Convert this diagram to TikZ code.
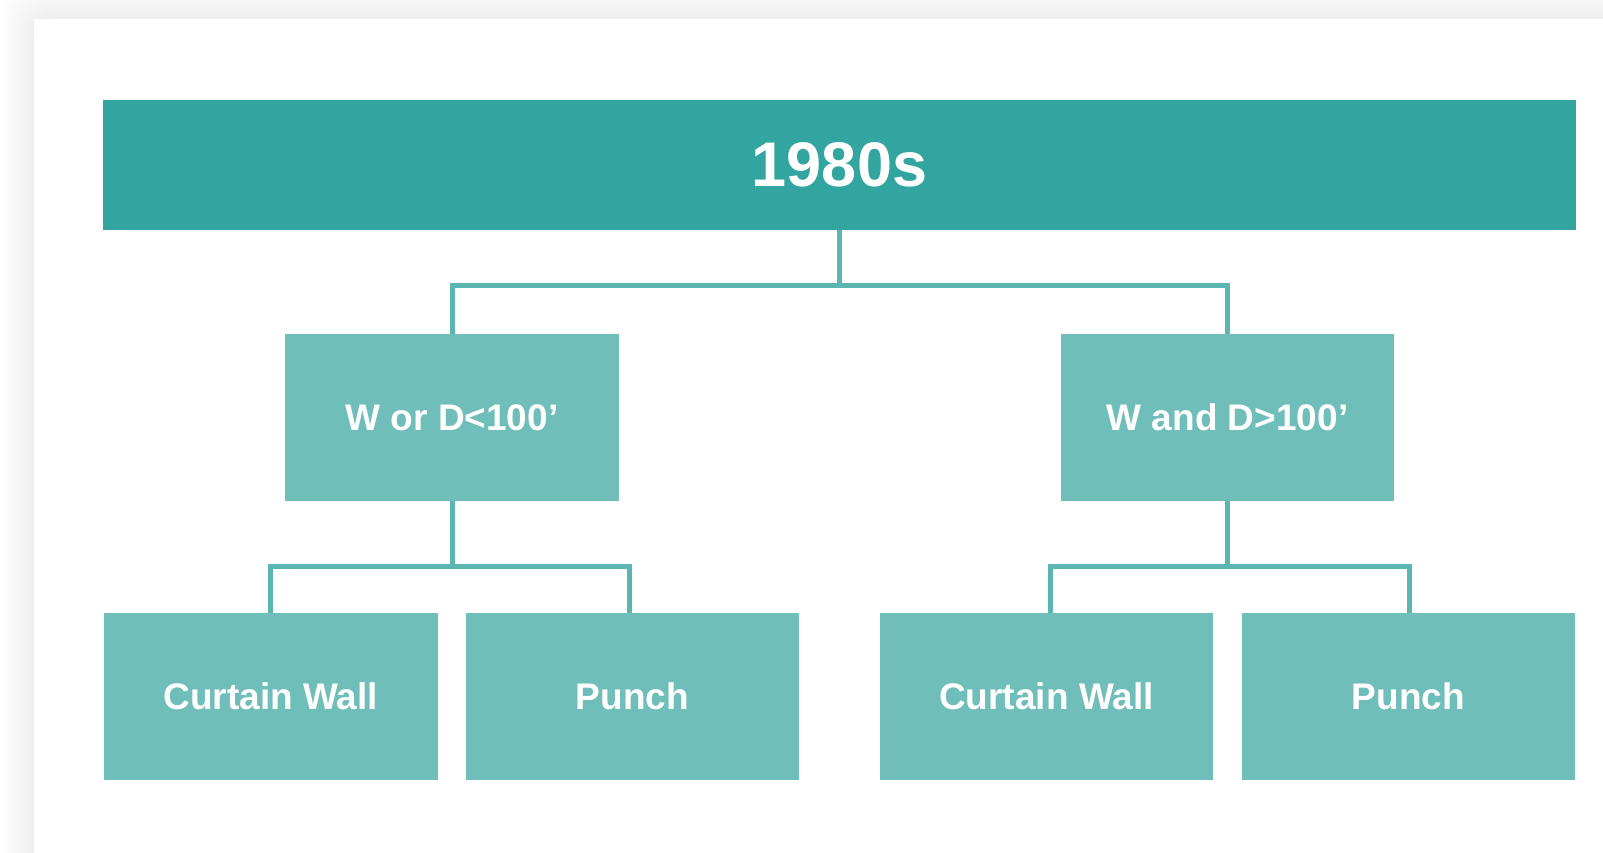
\documentclass[tikz,border=0pt]{standalone}
\usepackage{fontspec}
\setmainfont{Liberation Sans}
\definecolor{barteal}{RGB}{51,165,160}
\definecolor{boxteal}{RGB}{111,190,186}
\definecolor{lineteal}{RGB}{91,181,176}
\tikzset{
  headbar/.style={rectangle, fill=barteal, draw=none, inner sep=0pt, minimum width=1473pt, minimum height=130pt, text=white, font=\bfseries\fontsize{63}{70}\selectfont},
  tealbox/.style={rectangle, fill=boxteal, draw=none, inner sep=0pt, minimum width=333.5pt, minimum height=167pt, text=white, font=\bfseries\fontsize{37}{44}\selectfont},
  conn/.style={draw=lineteal, line width=5pt}
}
\begin{document}
\begin{tikzpicture}[x=1pt,y=-1pt]
\useasboundingbox (0,0) rectangle (1603,852);
\begin{scope}
\clip (0,0) rectangle (1603,852);
\fill[white] (0,0) rectangle (1603,852);
\foreach \i in {1,...,17} {
  \fill[black, opacity=0.005, rounded corners=28pt] ({34-2*\i},{19-2*\i}) rectangle (1700,950);
}
\fill[white] (34,19) rectangle (1700,950);
\end{scope}
\node[headbar] (top) at (839.5,165) {1980s};
\node[tealbox] (m1) at (452,417.5) {W or D<100’};
\node[tealbox] (m2) at (1227.5,417.5) {W and D>100’};
\node[tealbox] (b1) at (270.75,696.5) {Curtain Wall};
\node[tealbox] (b2) at (632.5,696.5) {Punch};
\node[tealbox] (b3) at (1046.5,696.5) {Curtain Wall};
\node[tealbox] (b4) at (1408.5,696.5) {Punch};
\draw[conn] (top.south) -- ++(0,55) -| (m1.north);
\draw[conn] (top.south) -- ++(0,55) -| (m2.north);
\draw[conn] (m1.south) -- ++(0,65) -| (b1.north);
\draw[conn] (m1.south) -- ++(0,65) -| ([xshift=-3pt]b2.north);
\draw[conn] (m2.south) -- ++(0,65) -| ([xshift=3.5pt]b3.north);
\draw[conn] (m2.south) -- ++(0,65) -| ([xshift=1pt]b4.north);
\end{tikzpicture}
\end{document}
